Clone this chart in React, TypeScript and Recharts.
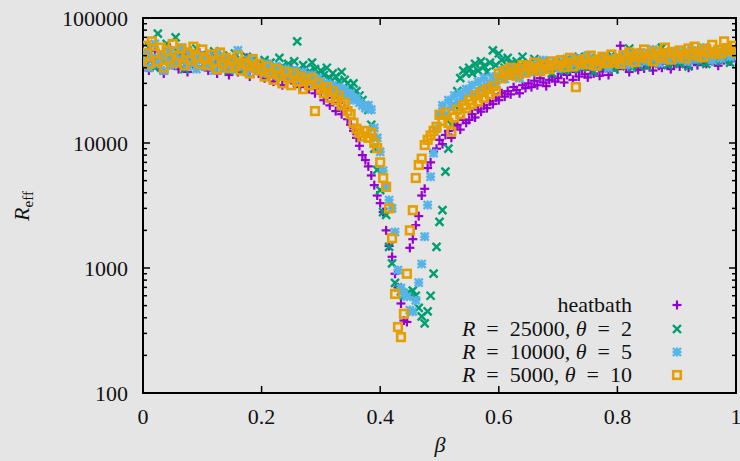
import React from 'react';
import { ScatterChart, Scatter, XAxis, YAxis, ReferenceArea } from 'recharts';

// beta grid (x values)
const BETA = [
  0, 0.005, 0.01, 0.015, 0.02, 0.025, 0.03, 0.035, 0.04, 0.045,
  0.05, 0.055, 0.06, 0.065, 0.07, 0.075, 0.08, 0.085, 0.09, 0.095,
  0.1, 0.105, 0.11, 0.115, 0.12, 0.125, 0.13, 0.135, 0.14, 0.145,
  0.15, 0.155, 0.16, 0.165, 0.17, 0.175, 0.18, 0.185, 0.19, 0.195,
  0.2, 0.205, 0.21, 0.215, 0.22, 0.225, 0.23, 0.235, 0.24, 0.245,
  0.25, 0.255, 0.26, 0.265, 0.27, 0.275, 0.28, 0.285, 0.29, 0.295,
  0.3, 0.305, 0.31, 0.315, 0.32, 0.325, 0.33, 0.335, 0.34, 0.345,
  0.35, 0.355, 0.36, 0.365, 0.37, 0.375, 0.38, 0.385, 0.39, 0.395,
  0.4, 0.405, 0.41, 0.415, 0.42, 0.425, 0.43, 0.435, 0.44, 0.445,
  0.45, 0.455, 0.46, 0.465, 0.47, 0.475, 0.48, 0.485, 0.49, 0.495,
  0.5, 0.505, 0.51, 0.515, 0.52, 0.525, 0.53, 0.535, 0.54, 0.545,
  0.55, 0.555, 0.56, 0.565, 0.57, 0.575, 0.58, 0.585, 0.59, 0.595,
  0.6, 0.605, 0.61, 0.615, 0.62, 0.625, 0.63, 0.635, 0.64, 0.645,
  0.65, 0.655, 0.66, 0.665, 0.67, 0.675, 0.68, 0.685, 0.69, 0.695,
  0.7, 0.705, 0.71, 0.715, 0.72, 0.725, 0.73, 0.735, 0.74, 0.745,
  0.75, 0.755, 0.76, 0.765, 0.77, 0.775, 0.78, 0.785, 0.79, 0.795,
  0.8, 0.805, 0.81, 0.815, 0.82, 0.825, 0.83, 0.835, 0.84, 0.845,
  0.85, 0.855, 0.86, 0.865, 0.87, 0.875, 0.88, 0.885, 0.89, 0.895,
  0.9, 0.905, 0.91, 0.915, 0.92, 0.925, 0.93, 0.935, 0.94, 0.945,
  0.95, 0.955, 0.96, 0.965, 0.97, 0.975, 0.98, 0.985, 0.99, 0.995,
  1,
];

const HEATBATH = [
  43000, 52000, 38000, 47000, 55000, 41000, 49000, 36000, 45000, 58000,
  42000, 48000, 39000, 51000, 44000, 37000, 50000, 46000, 40000, 53000,
  41000, 47000, 38000, 45000, 52000, 36000, 43000, 40000, 49000, 35000,
  42000, 46000, 37000, 44000, 39000, 48000, 34000, 41000, 45000, 36000,
  38000, 33000, 42000, 36000, 31000, 39000, 35000, 29000, 37000, 33000,
  40000, 30000, 34000, 28000, 32000, 36000, 27000, 31000, 25000, 29000,
  25000, 22000, 26000, 20000, 23000, 18000, 21000, 17000, 19000, 15500,
  14000, 12500, 11000, 9500, 8000, 7300, 6500, 5500, 4600, 3800,
  3300, 2800, 2000, 1500, 1230, 900, 700, 520, 380, 370,
  1450, 1700, 2200, 2600, 3800, 4300, 6300, 7000, 8500, 9000,
  10600, 9800, 11600, 12500, 11000, 13500, 14000, 12800, 15300, 14500,
  15300, 17000, 16000, 18500, 17800, 20000, 19000, 21500, 20500, 23000,
  22000, 25000, 23500, 26000, 24500, 28000, 26500, 25000, 29000, 27500,
  30000, 28000, 31500, 29000, 33000, 30500, 28500, 32000, 34000, 31000,
  33000, 36000, 30500, 35000, 38000, 32000, 37000, 34000, 39000, 35500,
  33500, 38500, 36000, 41000, 34500, 37500, 40000, 35000, 38000, 42000,
  39000, 60000, 43000, 40500, 37000, 45000, 41000, 38500, 44000, 39500,
  47000, 42000, 38000, 45500, 41500, 40000, 46000, 43000, 39000, 42500,
  44000, 41000, 47500, 43500, 40000, 49000, 45000, 42000, 50000, 46500,
  43000, 48000, 52000, 44500, 41500, 49500, 46000, 53000, 45000, 48500,
  47000,
];

const R25000_T2 = [
  52000, 44000, 58000, 47000, 40000, 75000, 50000, 45000, 62000, 48000,
  42000, 70000, 53000, 46000, 39000, 55000, 49000, 43000, 57000, 47000,
  51000, 44000, 48000, 41000, 54000, 46000, 42000, 50000, 43000, 38000,
  47000, 52000, 41000, 45000, 39000, 49000, 43000, 46000, 40000, 44000,
  42000, 46000, 38000, 44000, 40000, 37000, 48000, 41000, 39000, 43000,
  36000, 45000, 65000, 38000, 42000, 40000, 37000, 44000, 39000, 36000,
  38000, 35000, 40000, 33000, 36000, 34000, 31000, 37000, 32000, 30000,
  28000, 30000, 26000, 24000, 22000, 20000, 18400, 14000, 9000, 6100,
  4200, 2800, 2660, 1475, 1090, 760, 700, 650, 600, 620,
  630, 660, 600, 480, 410, 360, 450, 600, 900, 1475,
  2340, 2900, 5900, 9000, 14000, 20000, 26000, 33000, 38000, 36000,
  40000, 36000, 43000, 38000, 45000, 41000, 37000, 44000, 55000, 42000,
  52000, 46000, 40000, 48000, 43000, 38000, 45000, 41000, 49000, 39000,
  44000, 40000, 47000, 37000, 42000, 45000, 39000, 43000, 36000, 41000,
  41000, 45000, 38000, 47000, 42000, 39000, 44000, 49000, 40000, 43000,
  46000, 41000, 37000, 48000, 44000, 40000, 45000, 42000, 50000, 39000,
  44000, 41000, 47000, 43000, 57000, 40000, 46000, 42000, 49000, 44000,
  41000, 48000, 45000, 51000, 43000, 58000, 46000, 42000, 48000, 44000,
  47000, 43000, 50000, 45000, 41000, 49000, 46000, 52000, 44000, 48000,
  43000, 51000, 47000, 45000, 53000, 49000, 46000, 50000, 44000, 52000,
  48000,
];

const R10000_T5 = [
  45000, 53000, 40000, 48000, 62000, 43000, 50000, 38000, 46000, 55000,
  42000, 49000, 44000, 58000, 47000, 41000, 52000, 45000, 39000, 50000,
  46000, 41000, 49000, 43000, 38000, 52000, 44000, 40000, 47000, 42000,
  39000, 45000, 55000, 41000, 43000, 37000, 46000, 40000, 42000, 38000,
  40000, 36000, 43000, 38000, 35000, 41000, 37000, 34000, 39000, 36000,
  33000, 38000, 35000, 32000, 37000, 34000, 31000, 35000, 30000, 33000,
  31000, 28000, 30000, 27000, 29000, 26000, 28000, 25000, 27000, 24000,
  25000, 22000, 23000, 21000, 20000, 19000, 20000, 18500, 13200, 11000,
  8500, 6000, 4460, 3500, 3000, 1940, 960, 690, 620, 590,
  460, 447, 550, 764, 1076, 1780, 3190, 5370, 8300, 13000,
  17000, 20000, 16800, 22000, 19500, 24000, 21000, 25000, 23000, 27000,
  26000, 29000, 24500, 31000, 27500, 33000, 28500, 30000, 34000, 29500,
  34000, 38000, 32500, 36000, 40000, 35000, 37500, 33000, 39000, 36500,
  42000, 37000, 40500, 44000, 38000, 46000, 39500, 43000, 41000, 45000,
  42000, 39500, 46000, 43000, 40500, 48000, 44000, 41500, 47000, 42500,
  50000, 45000, 41000, 46500, 43500, 49000, 44500, 40000, 47500, 45500,
  48000, 43000, 50500, 46000, 42500, 51000, 47000, 44000, 53000, 48500,
  45000, 50000, 56000, 47500, 43500, 52000, 49000, 46000, 54000, 48000,
  51000, 46500, 53500, 49500, 45000, 55000, 50000, 47000, 52500, 58000,
  48500, 51500, 46000, 54000, 50500, 47500, 53000, 56000, 49000, 52000,
  50000,
];

const R5000_T10 = [
  48000, 60000, 43000, 65000, 52000, 45000, 58000, 40000, 55000, 47000,
  62000, 44000, 50000, 57000, 42000, 53000, 46000, 59000, 49000, 43000,
  56000, 47000, 42000, 51000, 45000, 39000, 53000, 43000, 48000, 40000,
  46000, 41000, 50000, 38000, 44000, 42000, 36000, 47000, 40000, 43000,
  38000, 34000, 41000, 36000, 32000, 39000, 35000, 30000, 37000, 33000,
  29000, 36000, 31000, 34000, 27000, 32000, 29000, 33000, 18000, 30000,
  27000, 25000, 28000, 23000, 26000, 22000, 24000, 20000, 21000, 18000,
  17000, 14500, 13000, 12000, 11300, 12500, 11000, 12000, 10000, 9100,
  7000, 5250, 4460, 3000, 1730, 620, 337, 280, 430, 900,
  2000, 2900, 5250, 6670, 7500, 9630, 10600, 11500, 12500, 13500,
  16800, 15000, 17500, 14500, 12300, 16000, 18500, 17000, 20100, 19000,
  22000, 20500, 24000, 21500, 25500, 23000, 27000, 24500, 28500, 26000,
  36000, 33000, 38000, 35000, 40000, 37000, 34500, 39500, 42000, 36500,
  41000, 38500, 44000, 40000, 37500, 43000, 41500, 39000, 45000, 42000,
  42000, 46000, 40500, 44000, 48000, 41000, 28000, 45500, 43000, 47000,
  42500, 50000, 44500, 41500, 46500, 49000, 43500, 45000, 51000, 44000,
  47000, 43000, 50500, 46000, 53000, 48500, 44500, 52000, 49000, 56000,
  47500, 51500, 45000, 54000, 50000, 48000, 58000, 52500, 46500, 53500,
  49500, 55000, 51000, 47500, 57000, 52000, 59000, 50000, 54000, 48500,
  56500, 53000, 61000, 51500, 55500, 52000, 65000, 57500, 54500, 60000,
  53000,
];

const X_TICKS = [0, 0.2, 0.4, 0.6, 0.8, 1];
const Y_MAJOR = [100, 1000, 10000, 100000];
const Y_TICKS = [
  100, 200, 300, 400, 500, 600, 700, 800, 900,
  1000, 2000, 3000, 4000, 5000, 6000, 7000, 8000, 9000,
  10000, 20000, 30000, 40000, 50000, 60000, 70000, 80000, 90000,
  100000,
];

const W = 740;
const H = 461;
const LEFT = 143;
const TOP = 18;
const RIGHT_M = 4;
const X_AXIS_H = 68;
const PW = W - LEFT - RIGHT_M;
const PH = H - TOP - X_AXIS_H;

const FONT = '"Liberation Serif", "DejaVu Serif", "Noto Serif", "Times New Roman", Times, serif';
const TEXT_STYLE: React.CSSProperties = { fontFamily: FONT, fontSize: 22 };
const TEXT_COLOR = '#111';

type Kind = 'plus' | 'cross' | 'star' | 'box';

const EQ = '\u2002=\u2002';

const SERIES: { name: string; values: number[]; color: string; kind: Kind; label: { t: string; i?: boolean }[] }[] = [
  { name: 'heatbath', values: HEATBATH, color: '#9400d3', kind: 'plus', label: [{ t: 'heatbath' }] },
  {
    name: 'R = 25000, θ = 2', values: R25000_T2, color: '#009e73', kind: 'cross',
    label: [{ t: 'R', i: true }, { t: EQ + '25000, ' }, { t: 'θ', i: true }, { t: EQ + '2' }],
  },
  {
    name: 'R = 10000, θ = 5', values: R10000_T5, color: '#56b4e9', kind: 'star',
    label: [{ t: 'R', i: true }, { t: EQ + '10000, ' }, { t: 'θ', i: true }, { t: EQ + '5' }],
  },
  {
    name: 'R = 5000, θ = 10', values: R5000_T10, color: '#e69f00', kind: 'box',
    label: [{ t: 'R', i: true }, { t: EQ + '5000, ' }, { t: 'θ', i: true }, { t: EQ + '10' }],
  },
];

function Marker({ cx, cy, color, kind }: { cx: number; cy: number; color: string; kind: Kind }) {
  if (cx == null || cy == null || isNaN(cx) || isNaN(cy)) return null;
  if (kind === 'plus') {
    const s = 4.5;
    return (
      <g stroke={color} strokeWidth={2.2}>
        <line x1={cx - s} y1={cy} x2={cx + s} y2={cy} />
        <line x1={cx} y1={cy - s} x2={cx} y2={cy + s} />
      </g>
    );
  }
  if (kind === 'cross') {
    const d = 4;
    return (
      <g stroke={color} strokeWidth={2.4}>
        <line x1={cx - d} y1={cy - d} x2={cx + d} y2={cy + d} />
        <line x1={cx - d} y1={cy + d} x2={cx + d} y2={cy - d} />
      </g>
    );
  }
  if (kind === 'star') {
    const s = 4.5;
    const d = 4;
    return (
      <g stroke={color} strokeWidth={2.4}>
        <line x1={cx - s} y1={cy} x2={cx + s} y2={cy} />
        <line x1={cx} y1={cy - s} x2={cx} y2={cy + s} />
        <line x1={cx - d} y1={cy - d} x2={cx + d} y2={cy + d} />
        <line x1={cx - d} y1={cy + d} x2={cx + d} y2={cy - d} />
      </g>
    );
  }
  return <rect x={cx - 3.8} y={cy - 3.8} width={7.6} height={7.6} fill="none" stroke={color} strokeWidth={2.6} />;
}

const YTick = (props: any) => {
  const { x, y, payload } = props;
  const v = payload.value;
  const major = Y_MAJOR.includes(v);
  const len = major ? 7 : 4;
  return (
    <g>
      <line x1={x} y1={y} x2={x + len} y2={y} stroke="#000" strokeWidth={1.5} />
      <line x1={x + PW} y1={y} x2={x + PW - len} y2={y} stroke="#000" strokeWidth={1.5} />
      {major && (
        <text x={x - 15} y={y + 8} textAnchor="end" style={TEXT_STYLE} fill={TEXT_COLOR}>
          {String(v)}
        </text>
      )}
    </g>
  );
};

const XTick = (props: any) => {
  const { x, y, payload } = props;
  const v = payload.value;
  return (
    <g>
      <line x1={x} y1={y} x2={x} y2={y - 7} stroke="#000" strokeWidth={1.5} />
      <line x1={x} y1={y - PH} x2={x} y2={y - PH + 7} stroke="#000" strokeWidth={1.5} />
      <text x={x} y={y + 31} textAnchor="middle" style={TEXT_STYLE} fill={TEXT_COLOR}>
        {String(v)}
      </text>
    </g>
  );
};

const LEGEND_BASELINES = [312, 336, 359, 382];

export default function App() {
  const datasets = SERIES.map((s) => s.values.map((v, i) => ({ x: BETA[i], y: v })));
  return (
    <div style={{ position: 'absolute', left: 0, top: 0, width: W, height: H, background: '#e5e5e5', fontFamily: FONT }}>
      <ScatterChart width={W} height={H} margin={{ top: TOP, right: RIGHT_M, bottom: 0, left: 0 }}>
        <XAxis
          type="number"
          dataKey="x"
          domain={[0, 1]}
          ticks={X_TICKS}
          interval={0}
          height={X_AXIS_H}
          tickSize={0}
          tickMargin={0}
          tickLine={false}
          axisLine={false}
          tick={XTick}
          allowDataOverflow
        />
        <YAxis
          type="number"
          dataKey="y"
          scale="log"
          domain={[100, 100000]}
          ticks={Y_TICKS}
          interval={0}
          width={LEFT}
          tickSize={0}
          tickMargin={0}
          tickLine={false}
          axisLine={false}
          tick={YTick}
          allowDataOverflow
        />
        <ReferenceArea x1={0} x2={1} y1={100} y2={100000} fill="none" stroke="#000" strokeWidth={2} ifOverflow="visible" />
        {SERIES.map((s, k) => (
          <Scatter
            key={s.name}
            name={s.name}
            data={datasets[k]}
            isAnimationActive={false}
            shape={(p: any) => <Marker cx={p.cx} cy={p.cy} color={s.color} kind={s.kind} />}
          />
        ))}
      </ScatterChart>
      <svg width={W} height={H} style={{ position: 'absolute', left: 0, top: 0, pointerEvents: 'none' }}>
        <text x={440} y={452} textAnchor="middle" style={{ ...TEXT_STYLE, fontStyle: 'italic' }} fill={TEXT_COLOR}>
          β
        </text>
        <text transform="translate(29, 206) rotate(-90)" textAnchor="middle" style={TEXT_STYLE} fill={TEXT_COLOR}>
          <tspan style={{ fontStyle: 'italic' }}>R</tspan>
          <tspan style={{ fontSize: 15 }} dy={4}>eff</tspan>
        </text>
        {SERIES.map((s, k) => (
          <g key={s.name}>
            <text x={632} y={LEGEND_BASELINES[k]} textAnchor="end" style={TEXT_STYLE} fill={TEXT_COLOR}>
              {s.label.map((part, j) => (
                <tspan key={j} style={{ fontStyle: part.i ? 'italic' : 'normal' }}>{part.t}</tspan>
              ))}
            </text>
            <Marker cx={677} cy={LEGEND_BASELINES[k] - 7} color={s.color} kind={s.kind} />
          </g>
        ))}
      </svg>
    </div>
  );
}
